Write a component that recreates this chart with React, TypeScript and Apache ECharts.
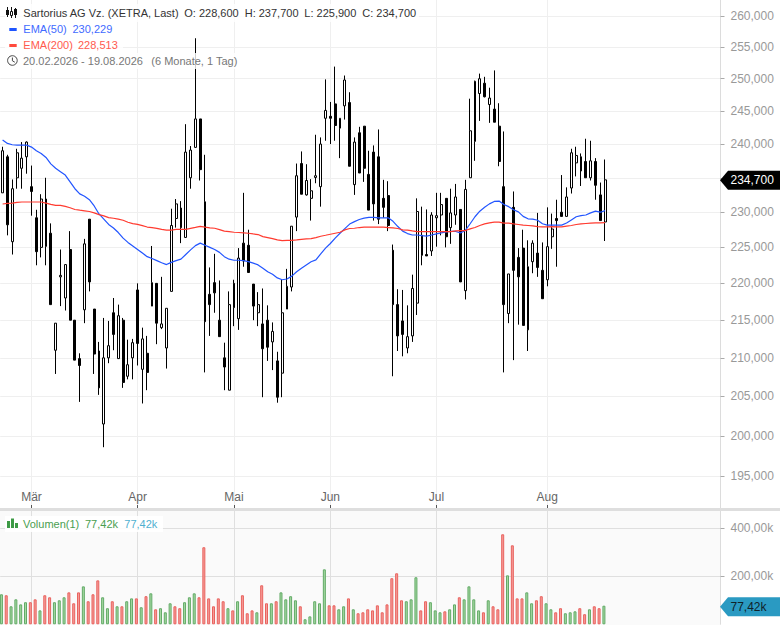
import React, { useEffect, useRef } from "react";
import * as echarts from "echarts";

const FONT = "'Liberation Sans', Arial, sans-serif";
const SLOTS = 150;
const categories = Array.from({ length: SLOTS }, (_, i) => String(i));
const monthLabels: Record<number, string> = { 6: "Mär", 28: "Apr", 48: "Mai", 68: "Jun", 90: "Jul", 113: "Aug" };
const priceTicks = [195000, 200000, 205000, 210000, 215000, 220000, 225000, 230000, 235000, 240000, 245000, 250000, 255000, 260000];
const priceLabels = [195000, 200000, 205000, 210000, 215000, 220000, 225000, 230000, 240000, 245000, 250000, 255000, 260000];
const volumeTicks = [200000, 400000];

const opens = [
  232.8, 238.1, 225.8, 235.0, 236.4, 238.1, 233.7, 229.2, 225.0, 231.9,
  227.0, 211.0, 220.9, 218.0, 224.7, 215.0, 209.9, 216.4, 229.0, 216.5,
  210.9, 201.5, 210.0, 216.0, 209.9, 215.0, 207.6, 210.0, 219.1, 208.5,
  210.6, 216.9, 220.0, 214.0, 211.3, 218.9, 229.1, 230.6, 226.4, 235.0,
  239.5, 243.8, 231.5, 218.5, 220.1, 215.0, 210.0, 205.8, 220.0, 215.2,
  225.6, 225.3, 219.9, 216.0, 214.5, 215.0, 212.1, 209.6, 208.0, 216.5,
  219.5, 229.3, 237.1, 232.5, 232.0, 235.05, 233.7, 243.9, 244.2, 246.1,
  242.4, 245.8, 246.3, 234.0, 241.7, 242.7, 235.5, 238.8, 238.1, 232.0,
  232.4, 224.6, 217.1, 214.9, 211.3, 212.9, 217.3, 226.7, 224.0, 224.5,
  229.2, 229.6, 232.0, 227.8, 229.6, 230.4, 219.0, 235.0, 240.4, 247.7,
  249.3, 246.0, 245.3, 242.7, 233.7, 215.9, 230.7, 223.6, 224.9, 213.7,
  223.0, 224.2, 221.8, 220.5, 226.5, 229.1, 230.0, 229.4, 233.5, 237.2,
  238.1, 237.4, 235.0, 237.4, 232.5, 228.6,
].map((v) => v * 1000);
const closes = [
  239.0, 228.2, 233.4, 238.7, 237.9, 240.3, 233.0, 224.4, 231.9, 225.15,
  217.1, 214.6, 221.1, 222.6, 215.0, 209.7, 209.0, 225.5, 220.2, 210.5,
  206.1, 210.0, 211.6, 213.1, 215.6, 206.8, 209.1, 212.0, 211.9, 212.5,
  208.1, 220.1, 214.6, 214.5, 216.6, 228.1, 231.2, 227.8, 238.8, 239.1,
  243.8, 236.2, 214.8, 217.1, 218.7, 212.8, 208.8, 217.1, 216.7, 223.5,
  223.1, 221.5, 216.9, 217.1, 211.2, 211.4, 213.5, 204.9, 216.0, 219.6,
  228.0, 235.3, 232.6, 234.6, 233.1, 235.3, 240.0, 245.1, 243.9, 242.8,
  243.9, 249.8, 236.7, 240.3, 235.7, 236.4, 230.3, 231.2, 229.0, 230.7,
  228.1, 217.1, 212.9, 213.1, 212.8, 219.3, 230.1, 223.9, 223.8, 229.6,
  229.5, 231.1, 226.5, 229.9, 232.2, 220.2, 233.3, 242.0, 249.6, 250.0,
  247.2, 247.0, 243.3, 237.4, 217.1, 221.3, 221.8, 220.9, 214.3, 222.3,
  225.6, 222.2, 217.9, 225.1, 227.6, 228.8, 229.4, 232.2, 238.7, 238.3,
  236.0, 235.0, 237.5, 233.9, 228.8, 234.7,
].map((v) => v * 1000);
const lows = [
  232.8, 226.7, 224.0, 233.4, 233.4, 235.6, 229.5, 222.5, 223.6, 222.5,
  217.1, 207.9, 216.9, 216.3, 215.0, 209.7, 204.3, 214.6, 218.9, 207.9,
  205.2, 198.6, 209.3, 211.0, 209.9, 206.1, 207.2, 207.2, 209.0, 204.1,
  205.8, 216.9, 211.8, 213.8, 208.6, 218.9, 227.8, 225.6, 226.4, 233.4,
  239.5, 234.6, 208.1, 212.9, 216.0, 212.8, 205.8, 205.8, 214.2, 213.7,
  222.3, 221.5, 215.0, 214.2, 204.9, 209.6, 208.4, 204.2, 204.9, 216.5,
  218.9, 227.3, 232.6, 232.4, 228.8, 234.2, 230.8, 240.5, 240.0, 240.5,
  237.9, 243.7, 236.7, 232.5, 235.7, 234.4, 230.3, 228.8, 228.3, 229.2,
  227.3, 207.6, 210.9, 210.2, 210.6, 212.1, 215.7, 222.5, 223.8, 223.8,
  225.1, 226.7, 225.0, 225.5, 228.2, 220.2, 217.8, 235.0, 237.5, 243.5,
  247.1, 243.2, 243.3, 236.7, 208.1, 214.6, 209.7, 214.4, 214.3, 210.9,
  221.4, 220.9, 217.9, 219.6, 224.8, 222.3, 229.4, 229.4, 232.7, 235.2,
  233.8, 235.0, 234.6, 231.8, 228.8, 225.9,
].map((v) => v * 1000);
const highs = [
  239.6, 238.4, 234.75, 239.3, 240.3, 240.4, 236.8, 230.35, 232.6, 235.0,
  228.4, 214.6, 224.7, 222.6, 227.3, 215.0, 210.6, 226.2, 229.0, 216.5,
  212.1, 215.3, 214.9, 218.0, 217.1, 215.3, 212.4, 212.5, 220.0, 214.0,
  212.9, 225.2, 220.0, 220.9, 216.6, 230.5, 231.9, 231.6, 243.0, 239.7,
  256.4, 243.8, 238.4, 222.2, 224.1, 220.4, 212.0, 218.9, 220.5, 224.9,
  232.8, 227.5, 219.9, 218.8, 219.3, 217.0, 214.7, 210.8, 220.5, 222.0,
  228.0, 237.1, 238.9, 237.0, 234.8, 241.4, 241.0, 249.9, 246.4, 251.9,
  243.9, 250.5, 247.9, 241.0, 242.6, 242.7, 239.0, 239.8, 242.2, 234.7,
  234.5, 225.4, 219.2, 219.1, 217.0, 221.2, 232.0, 230.8, 230.4, 230.0,
  232.8, 232.8, 232.0, 233.4, 234.1, 230.4, 234.7, 246.9, 249.7, 250.8,
  250.3, 248.6, 251.3, 246.2, 241.9, 221.3, 233.0, 224.9, 227.5, 226.0,
  226.0, 229.9, 225.7, 230.7, 229.8, 231.8, 235.4, 233.6, 239.3, 239.6,
  238.6, 240.8, 240.5, 237.9, 234.3, 237.7,
].map((v) => v * 1000);
const ema50 = [
  240.6, 240.1, 239.9, 239.85, 239.85, 239.85, 239.55, 239.0, 238.6, 238.0,
  237.05, 236.4, 235.9, 235.4, 234.4, 233.4, 232.65, 232.3, 231.8, 230.9,
  229.75, 229.0, 228.25, 227.75, 227.1, 226.3, 225.7, 225.2, 224.7, 224.2,
  223.7, 223.45, 223.15, 222.85, 222.6, 222.9, 223.15, 223.35, 224.0, 224.65,
  225.25, 225.6, 225.3, 225.0, 224.7, 224.3, 223.7, 223.35, 223.2, 223.2,
  223.15, 223.0, 222.8, 222.55, 222.1, 221.6, 221.25, 220.75, 220.5, 220.6,
  221.0, 221.6, 222.1, 222.55, 223.0, 223.25, 224.1, 224.9, 225.55, 226.3,
  227.0, 227.65, 228.3, 228.65, 228.95, 229.15, 229.25, 229.25, 229.2, 229.2,
  229.2, 228.7, 227.95, 227.3, 226.95, 226.75, 226.75, 226.65, 226.6, 226.75,
  226.9, 227.05, 227.2, 227.25, 227.25, 227.05, 227.4, 228.35, 229.35, 230.15,
  230.7, 231.2, 231.55, 231.6, 231.1, 230.8, 230.35, 230.05, 229.4, 229.05,
  229.0, 228.85, 228.35, 228.15, 228.15, 228.15, 228.15, 228.45, 228.9, 229.35,
  229.5, 229.6, 229.9, 230.15, 230.0, 230.229,
].map((v) => v * 1000);
const ema200 = [
  231.18, 231.27, 231.32, 231.42, 231.47, 231.47, 231.47, 231.47, 231.47, 231.32,
  231.13, 230.98, 230.98, 230.83, 230.64, 230.39, 230.29, 230.2, 230.1, 229.9,
  229.66, 229.47, 229.23, 229.13, 229.0, 228.85, 228.56, 228.37, 228.27, 228.08,
  227.88, 227.79, 227.69, 227.55, 227.45, 227.45, 227.55, 227.55, 227.55, 227.69,
  227.83, 227.98, 227.86, 227.76, 227.71, 227.52, 227.29, 227.24, 227.14, 227.1,
  227.05, 227.0, 226.9, 226.81, 226.52, 226.38, 226.24, 226.05, 225.95, 226.0,
  226.0, 226.05, 226.14, 226.19, 226.24, 226.38, 226.57, 226.71, 226.86, 227.0,
  227.14, 227.48, 227.67, 227.71, 227.81, 227.86, 227.86, 227.86, 227.86, 227.86,
  227.81, 227.76, 227.67, 227.48, 227.45, 227.33, 227.24, 227.24, 227.24, 227.24,
  227.24, 227.24, 227.24, 227.24, 227.33, 227.38, 227.38, 227.62, 227.81, 228.1,
  228.33, 228.48, 228.57, 228.57, 228.43, 228.43, 228.33, 228.24, 228.14, 228.1,
  228.05, 227.95, 227.9, 227.9, 227.95, 227.9, 227.9, 228.0, 228.1, 228.24,
  228.33, 228.38, 228.43, 228.48, 228.48, 228.513,
].map((v) => v * 1000);
const volumes = [
  125, 121, 75, 104, 83, 92, 92, 104, 58, 121,
  112.5, 92, 100, 112.5, 133, 87.5, 133, 158, 96, 125,
  183, 112.5, 67, 96, 75, 75, 96, 108, 108, 71,
  117, 129, 62.5, 67, 50, 87.5, 75, 67, 92, 112.5,
  129, 112.5, 321, 108, 75, 108, 96, 67, 58, 96,
  121, 46, 58, 50, 162.5, 87.5, 87.5, 96, 133, 104,
  117, 100, 75, 21, 33, 96, 87.5, 229, 79, 79,
  62.5, 75, 108, 62.5, 46, 50, 62.5, 58, 79, 50,
  83, 192, 212.5, 100, 96, 104, 196, 58, 96, 92,
  58, 50, 54, 62.5, 83, 112.5, 104, 158, 104, 58,
  50, 100, 75, 62.5, 375, 204, 329, 108, 108, 133,
  87.5, 100, 117, 87.5, 62.5, 50, 67, 46, 50, 54,
  67, 42, 62.5, 75, 67, 77.42,
].map((v) => v * 1000);

const GREEN = { fill: "#a5d8a1", line: "#62aa67" };
const RED = { fill: "#f59c98", line: "#e9625e" };

const candleData = opens.map((o, i) => [o, closes[i], lows[i], highs[i]]);
const isUp = (i: number) => (i === 36 ? false : closes[i] >= opens[i]);

const labelEvery = (i: number) => monthLabels[i] !== undefined;

function renderTag(bg: string, fg: string, text: string, dy: number) {
  return (_p: any, api: any) => {
    const y = api.coord([api.value(0), api.value(1)])[1] + dy;
    return {
      type: "group",
      children: [
        {
          type: "polygon",
          shape: { points: [[720, y], [728, y - 9.5], [780, y - 9.5], [780, y + 9.5], [728, y + 9.5]] },
          style: { fill: bg },
        },
        {
          type: "text",
          style: { text, x: 730.5, y, fill: fg, font: `12px ${FONT}`, textAlign: "left", textVerticalAlign: "middle" },
        },
      ],
    };
  };
}

const txt = (text: string, x: number, y: number, fill: string) => ({
  type: "text",
  z: 21,
  style: { text, x, y, fill, font: `11px ${FONT}`, textAlign: "left", textVerticalAlign: "middle" },
});
const box = (x: number, y: number, width: number, height: number, fill: string, z = 21) => ({
  type: "rect",
  z,
  shape: { x, y, width, height },
  style: { fill },
});

export default function App() {
  const ref = useRef<HTMLDivElement>(null);
  useEffect(() => {
    const chart = echarts.init(ref.current!, null, { renderer: "svg" });
    chart.setOption({
      animation: false,
      textStyle: { fontFamily: FONT },
      grid: [
        { left: 0.2, top: 0, width: 723, height: 508 },
        { left: 0.2, top: 511, width: 723, height: 113.3 },
      ],
      xAxis: [
        {
          type: "category",
          gridIndex: 0,
          data: categories,
          axisLine: { show: false },
          axisTick: { show: true, inside: true, length: 3, alignWithLabel: true, interval: (i: number) => labelEvery(i), lineStyle: { color: "#555" } },
          axisLabel: {
            show: true,
            inside: true,
            margin: 5,
            interval: (i: number) => labelEvery(i),
            formatter: (_v: string, i: number) => monthLabels[i] ?? "",
            color: "#666",
            fontSize: 12,
            fontFamily: FONT,
          },
          splitLine: { show: true, alignWithLabel: true, interval: (i: number) => labelEvery(i), lineStyle: { color: "#efefef", width: 1 } },
        },
        {
          type: "category",
          gridIndex: 1,
          data: categories,
          axisLine: { show: false },
          axisTick: { show: false, alignWithLabel: true, interval: (i: number) => labelEvery(i) },
          axisLabel: { show: false },
          splitLine: { show: true, alignWithLabel: true, interval: (i: number) => labelEvery(i), lineStyle: { color: "#dfdfdf", width: 1 } },
        },
      ],
      yAxis: [
        {
          type: "log",
          logBase: 10,
          gridIndex: 0,
          position: "right",
          offset: -2.7,
          min: 191200,
          max: 262600,
          axisLine: { show: true, lineStyle: { color: "#dcdcdc" } },
          axisTick: { show: true, length: 4, customValues: priceTicks, lineStyle: { color: "#aaa" } },
          axisLabel: {
            customValues: priceLabels,
            margin: 10,
            color: "#999",
            fontSize: 12,
            fontFamily: FONT,
            formatter: (v: number) => (v / 1000).toFixed(3).replace(".", ","),
          },
          splitLine: { show: true, lineStyle: { color: "#efefef", width: 1 } },
        },
        {
          type: "value",
          gridIndex: 1,
          position: "right",
          offset: -2.7,
          min: 0,
          max: 472000,
          axisLine: { show: true, lineStyle: { color: "#dcdcdc" } },
          axisTick: { show: true, length: 4, customValues: volumeTicks, lineStyle: { color: "#aaa" } },
          axisLabel: {
            customValues: volumeTicks,
            margin: 10,
            color: "#999",
            fontSize: 12,
            fontFamily: FONT,
            formatter: (v: number) => (v / 1000).toFixed(2).replace(".", ",") + "k",
          },
          splitLine: { show: true, lineStyle: { color: "#dfdfdf", width: 1 } },
        },
      ],
      series: [
        {
          type: "candlestick",
          name: "Sartorius AG Vz.",
          xAxisIndex: 0,
          yAxisIndex: 0,
          data: candleData,
          barWidth: 2.4,
          itemStyle: { color: "#fff", color0: "#000", borderColor: "#000", borderColor0: "#000", borderWidth: 1 },
          z: 3,
        },
        {
          type: "line",
          name: "EMA(50)",
          xAxisIndex: 0,
          yAxisIndex: 0,
          data: ema50,
          showSymbol: false,
          smooth: false,
          lineStyle: { color: "#2255ff", width: 1.2 },
          z: 4,
        },
        {
          type: "line",
          name: "EMA(200)",
          xAxisIndex: 0,
          yAxisIndex: 0,
          data: ema200,
          showSymbol: false,
          smooth: false,
          lineStyle: { color: "#ff3b30", width: 1.2 },
          z: 4,
        },
        {
          type: "bar",
          name: "Volumen(1)",
          xAxisIndex: 1,
          yAxisIndex: 1,
          barWidth: 3,
          barGap: 0,
          data: volumes.map((v, i) => {
            const c = isUp(i) ? GREEN : RED;
            return { value: v, itemStyle: { color: c.fill, borderColor: c.line, borderWidth: 1 } };
          }),
          z: 3,
        },
        {
          type: "bar",
          name: "spacer",
          xAxisIndex: 1,
          yAxisIndex: 1,
          barWidth: 2.4,
          barGap: 0,
          data: [],
          silent: true,
        },
        {
          type: "custom",
          name: "lastPrice",
          xAxisIndex: 0,
          yAxisIndex: 0,
          clip: false,
          silent: true,
          z: 10,
          data: [[125, closes[125]]],
          encode: { x: 0, y: 1 },
          renderItem: renderTag("#000", "#fff", "234,700", 0.5),
        },
        {
          type: "custom",
          name: "lastVolume",
          xAxisIndex: 1,
          yAxisIndex: 1,
          clip: false,
          silent: true,
          z: 10,
          data: [[125, volumes[125]]],
          encode: { x: 0, y: 1 },
          renderItem: renderTag("#2a9ac2", "#10222a", "77,42k", 1),
        },
      ],
      graphic: {
        elements: [
          box(0, 511, 720, 114, "#fafafa", -1),
          box(0, 508, 780, 3, "#dedede", 20),
          box(5, 4, 414, 18, "rgba(255,255,255,0.8)", 20),
          box(5, 21, 118, 16, "rgba(255,255,255,0.8)", 20),
          box(5, 37, 118, 16, "rgba(255,255,255,0.8)", 20),
          box(5, 53, 235, 16, "rgba(255,255,255,0.8)", 20),
          box(5, 516, 158, 16, "rgba(255,255,255,0.9)", 20),
          // header icon
          box(7, 7, 1, 10, "#111"),
          box(6, 10, 3, 5, "#111"),
          box(11, 7, 1, 11, "#111"),
          { type: "rect", z: 22, shape: { x: 10.5, y: 11.5, width: 2, height: 4 }, style: { fill: "#fff", stroke: "#111", lineWidth: 1 } },
          box(15, 8, 1, 10, "#111"),
          box(14, 9, 3, 6, "#111"),
          txt("Sartorius AG Vz. (XETRA, Last)", 23.3, 13, "#333"),
          txt("O: 228,600", 184.3, 13, "#333"),
          txt("H: 237,700", 244.7, 13, "#333"),
          txt("L: 225,900", 304.3, 13, "#333"),
          txt("C: 234,700", 362.3, 13, "#333"),
          box(9.3, 28, 7.4, 3, "#1f55ff"),
          txt("EMA(50)", 23.3, 29, "#3f6bff"),
          txt("230,229", 72.5, 29, "#3f6bff"),
          box(9.3, 44, 7.4, 3, "#ff4a3d"),
          txt("EMA(200)", 23.3, 44.7, "#ff5a4e"),
          txt("228,513", 78, 44.7, "#ff5a4e"),
          { type: "circle", z: 21, shape: { cx: 12.4, cy: 60.5, r: 4.8 }, style: { fill: "none", stroke: "#444", lineWidth: 1 } },
          { type: "polyline", z: 21, shape: { points: [[12.4, 57.5], [12.4, 60.8], [14.8, 62.2]] }, style: { fill: "none", stroke: "#444", lineWidth: 1 } },
          txt("20.02.2026 - 19.08.2026", 23, 60.7, "#777"),
          txt("(6 Monate, 1 Tag)", 151.3, 60.7, "#777"),
          // volume icon
          box(7, 521, 3, 7, "#3d9a45"),
          box(11, 518.5, 3, 9.5, "#3d9a45"),
          box(15, 523, 3, 5, "#3d9a45"),
          txt("Volumen(1)", 23, 523.5, "#4a9e50"),
          txt("77,42k", 85, 523.5, "#4a9e50"),
          txt("77,42k", 124.3, 523.5, "#4fb0d0"),
        ],
      },
    });
    return () => chart.dispose();
  }, []);
  return <div ref={ref} style={{ position: "absolute", left: 0, top: 0, width: 780, height: 625 }} />;
}
